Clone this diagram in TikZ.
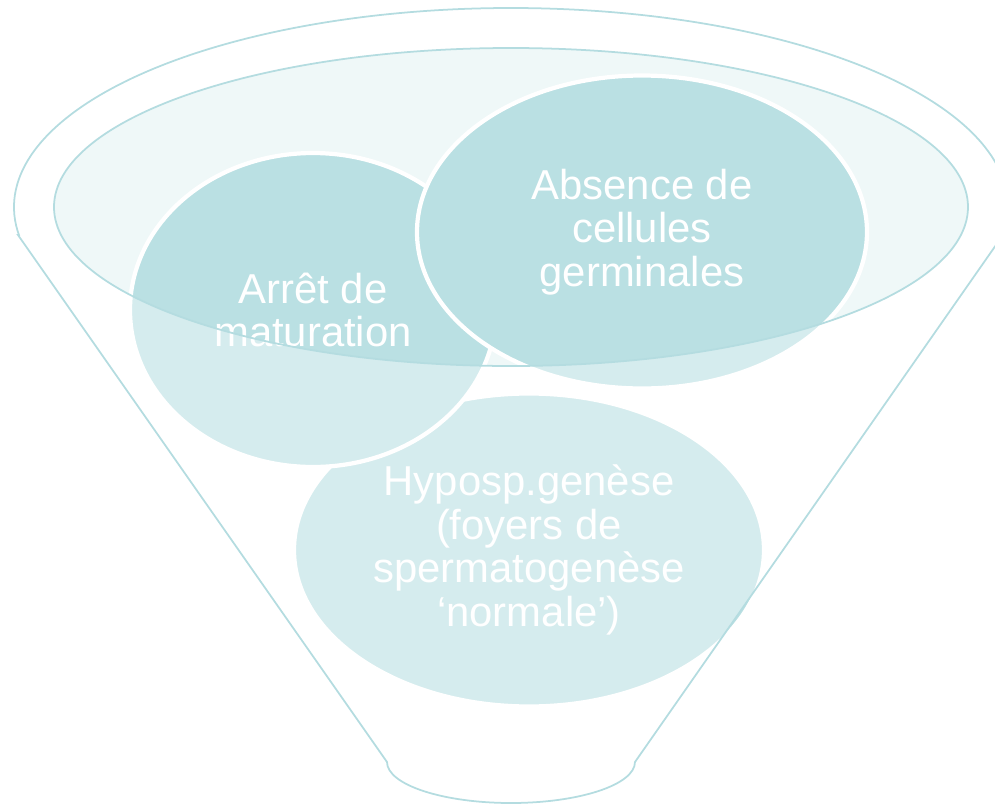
\documentclass[tikz,border=0pt]{standalone}
\usepackage{fontspec}
\setmainfont{Liberation Sans}
\usetikzlibrary{shapes.geometric}
\definecolor{entonnoir}{HTML}{B4DCE0}
\definecolor{bulle}{HTML}{BAE0E3}
\definecolor{couvercle}{HTML}{EFF8F8}
\begin{document}
\begin{tikzpicture}[
    trait/.style={draw=entonnoir, line width=0.5pt},
    cercle/.style={ellipse, fill=bulle, draw=white, line width=1.2pt, inner sep=0pt,
        text=white, align=center, font=\fontsize{11.9}{12.4}\selectfont}
]
    \useasboundingbox (0,0) rectangle (9.95,-8.05);

    % couvercle de l'entonnoir
    \fill[couvercle] (5.11,-2.07) ellipse (4.57 and 1.59);

    % les trois bulles
    \node[cercle, minimum width=4.70cm, minimum height=3.13cm] (hypo) at (5.29,-5.50)
        {Hyposp.genèse\\(foyers de\\spermatogenèse\\‘normale’)};
    \node[cercle, minimum width=3.66cm, minimum height=3.14cm] (arret) at (3.13,-3.10)
        {Arrêt de\\maturation};
    \node[cercle, minimum width=4.50cm, minimum height=3.13cm] (absence) at (6.42,-2.32)
        {Absence de\\cellules\\germinales};

    % corps de l'entonnoir (voile blanc)
    \fill[white, fill opacity=0.4, even odd rule]
        (0.18,-2.35) -- (3.87,-7.62)
        arc[start angle=180, end angle=360, x radius=1.24, y radius=0.41]
        -- (10.03,-2.35)
        arc[start angle=-8.09, end angle=188.09, x radius=4.97, y radius=1.99] -- cycle
        (5.11,-2.07) ellipse (4.57 and 1.59);

    % contours
    \draw[trait] (0.18,-2.35) -- (3.87,-7.62)
        arc[start angle=180, end angle=360, x radius=1.24, y radius=0.41]
        -- (10.03,-2.35)
        arc[start angle=-8.09, end angle=188.09, x radius=4.97, y radius=1.99] -- cycle;
    \draw[trait] (5.11,-2.07) ellipse (4.57 and 1.59);
\end{tikzpicture}
\end{document}
